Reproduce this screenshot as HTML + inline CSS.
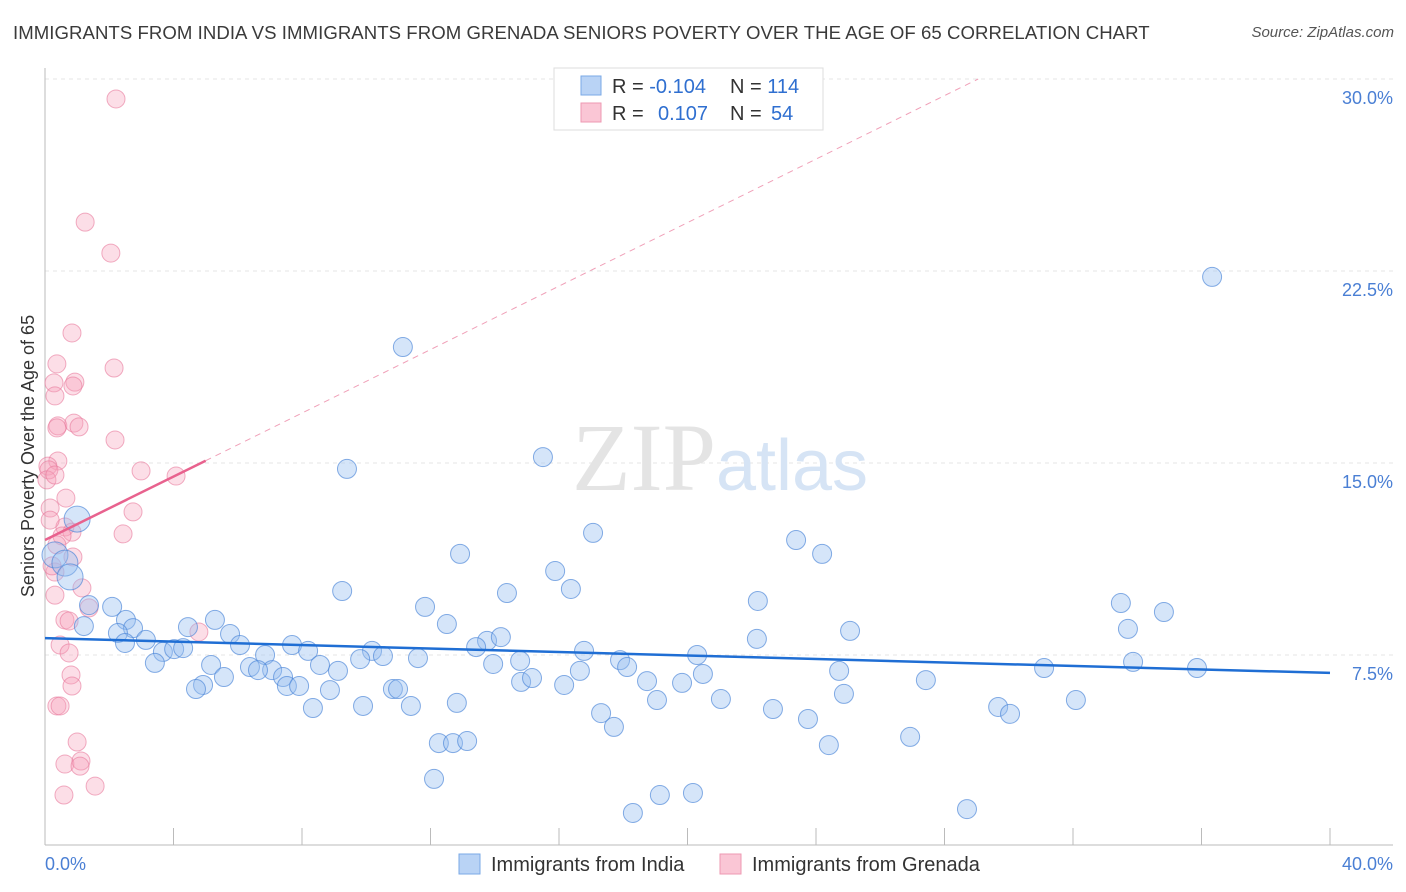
<!DOCTYPE html>
<html><head><meta charset="utf-8"><style>
body{margin:0;background:#fff;font-family:"Liberation Sans",sans-serif;}
#wrap{position:relative;width:1406px;height:892px;overflow:hidden;}
.title{position:absolute;left:13px;top:22px;font-size:18.6px;color:#3a3a3a;letter-spacing:0.05px;white-space:nowrap;}
.src{position:absolute;right:12px;top:24px;font-size:15px;color:#555;font-style:italic;}
</style></head><body>
<div id="wrap">
<div class="title">IMMIGRANTS FROM INDIA VS IMMIGRANTS FROM GRENADA SENIORS POVERTY OVER THE AGE OF 65 CORRELATION CHART</div>
<div class="src">Source: ZipAtlas.com</div>
<svg id="svg" width="1406" height="892" style="position:absolute;left:0;top:0"></svg>
</div>
<script>
const yTicks=[7.5,15,22.5,30];
const yTickLabels=["7.5%","15.0%","22.5%","30.0%"];
const xTickLabels=["0.0%","40.0%"];
const indiaX=[11.14,36.33,9.40,15.50,1.00,17.06,23.38,24.19,12.92,15.88,16.37,0.31,0.62,0.78,9.25,14.38,33.49,34.83,22.19,2.09,1.37,5.29,2.52,11.83,12.51,1.21,4.45,2.74,25.06,33.71,5.76,2.27,3.14,13.76,14.19,22.16,6.07,2.49,7.69,8.19,3.67,4.02,4.30,10.18,10.52,13.42,16.78,20.30,17.90,3.42,5.17,6.38,6.85,9.81,11.61,14.79,13.95,18.12,16.65,24.72,31.10,33.87,35.86,7.07,6.63,8.56,9.12,5.57,7.41,20.48,18.74,19.83,27.42,14.82,15.16,4.92,4.70,7.53,7.91,8.87,10.83,10.99,16.16,12.82,19.05,21.04,24.87,32.09,8.34,9.90,11.39,17.31,22.66,29.67,30.04,17.71,23.75,26.93,24.40,12.26,12.70,13.14,12.11,19.14,20.17,18.30,28.70];
const indiaY=[19.53,22.27,14.77,15.23,12.81,12.27,11.99,11.45,11.45,10.78,10.08,11.41,11.09,10.55,10.0,9.92,9.53,9.18,9.61,9.38,9.45,8.87,8.87,9.38,8.71,8.63,8.59,8.55,8.44,8.52,8.32,8.36,8.09,8.05,8.20,8.13,7.89,7.97,7.89,7.66,7.62,7.73,7.77,7.66,7.46,7.81,7.66,7.5,7.30,7.19,7.11,7.03,7.5,7.34,7.38,7.27,7.15,7.03,6.88,6.88,6.99,7.23,6.99,6.91,6.91,7.11,6.88,6.64,6.64,6.76,6.48,6.41,6.52,6.45,6.60,6.33,6.17,6.29,6.29,6.13,6.17,6.17,6.33,5.63,5.74,5.78,5.98,5.74,5.43,5.51,5.51,5.23,5.39,5.47,5.20,4.69,5.0,4.30,3.98,4.06,4.06,4.14,2.66,2.03,2.11,1.33,1.48];
const grenX=[2.21,1.25,2.05,0.84,0.37,2.15,0.28,0.93,0.87,0.31,0.40,0.90,1.06,0.37,2.18,0.40,0.09,0.12,0.06,0.31,2.99,4.08,0.65,0.16,2.74,0.62,0.84,2.43,0.53,0.37,0.87,0.31,1.15,0.31,1.37,0.62,0.75,4.79,0.47,0.75,0.81,0.84,0.37,0.47,1.00,0.62,1.12,1.09,0.59,1.56,0.22,0.16];
const grenY=[29.22,24.41,23.20,20.08,18.87,18.71,18.13,18.16,18.01,17.62,16.45,16.56,16.41,16.37,15.90,15.08,14.88,14.73,14.34,14.53,14.69,14.49,13.63,13.24,13.09,12.5,12.30,12.23,12.15,11.80,11.33,10.74,10.12,9.84,9.34,8.87,8.83,8.40,7.89,7.58,6.72,6.29,5.51,5.51,4.10,3.24,3.36,3.16,2.03,2.38,10.98,12.77];
const indiaTrend=[8.16,6.80];
const grenTrend=[11.99,0.62];
const xs=v=>45+v*32.125, ys=v=>847-v*25.6;
const svg=document.getElementById('svg');const NS='http://www.w3.org/2000/svg';
function mk(t,a,p){const e=document.createElementNS(NS,t);for(const k in a)e.setAttribute(k,a[k]);(p||svg).appendChild(e);return e;}
yTicks.forEach((t,i)=>{
 const g=mk('line',{x1:45,x2:1393,y1:ys(t),y2:ys(t),stroke:'#e6e6e6','stroke-dasharray':'4,4'});
 
 
 const l=mk('text',{x:1393,y:ys(t)+25,'text-anchor':'end','font-size':18,fill:'#4a7fd4','font-family':'Liberation Sans'});
 l.textContent=yTickLabels[i];
 
 
});
const w=mk('text',{x:720,y:490,'text-anchor':'middle','font-size':96,fill:'#e4e4e4','font-family':'Liberation Serif'});
w.innerHTML='ZIP<tspan fill="#d6e4f5" font-family="Liberation Sans" font-size="72">atlas</tspan>';


mk('line',{x1:45,x2:45,y1:68,y2:845,stroke:'#bbb'});
mk('line',{x1:45,x2:1393,y1:845,y2:845,stroke:'#bbb'});
for(let i=0;i<=10;i++){const t=mk('line',{x1:xs(i*4),x2:xs(i*4),y1:828,y2:845,stroke:'#bbb'});
 
 }
[[0,'start',45],[40,'end',1393]].forEach((d,i)=>{const l=mk('text',{x:d[2],y:870,'text-anchor':d[1],'font-size':18,fill:'#4a7fd4','font-family':'Liberation Sans'});l.textContent=xTickLabels[i];
 
 });
const yt=mk('text',{x:34,y:456,'text-anchor':'middle','font-size':18,fill:'#333','font-family':'Liberation Sans',transform:'rotate(-90 34 456)'});
yt.textContent='Seniors Poverty Over the Age of 65';


grenX.forEach((x,i)=>{const c=mk('circle',{cx:xs(x),cy:ys(grenY[i]),r:9,fill:'rgba(247,160,185,0.35)',stroke:'rgba(232,120,155,0.6)','stroke-width':1});
 
 });
indiaX.forEach((x,i)=>{const c=mk('circle',{cx:xs(x),cy:ys(indiaY[i]),r:(x<1.2&&indiaY[i]>10)?13:9.5,fill:'rgba(150,190,240,0.4)',stroke:'rgba(70,130,215,0.65)','stroke-width':1});
 
 });
const bt=mk('line',{x1:xs(0),y1:ys(indiaTrend[0]),x2:xs(40),y2:ys(indiaTrend[1]),stroke:'#1f6ed4','stroke-width':2.5});


const xEnd=(30-grenTrend[0])/grenTrend[1];
const pd=mk('line',{x1:xs(5),y1:ys(grenTrend[0]+5*grenTrend[1]),x2:xs(xEnd),y2:ys(30),stroke:'#f0a0b8','stroke-width':1,'stroke-dasharray':'6,5'});


const pt=mk('line',{x1:xs(0),y1:ys(grenTrend[0]),x2:xs(5),y2:ys(grenTrend[0]+5*grenTrend[1]),stroke:'#e8628e','stroke-width':2.5});


const lg=mk('g',{});


mk('rect',{x:554,y:68,width:269,height:62,fill:'#fff',stroke:'#ddd'},lg);
mk('rect',{x:581,y:76,width:20,height:19,fill:'#b9d3f5',stroke:'#7aa8e6'},lg);
mk('rect',{x:581,y:103,width:20,height:19,fill:'#fac6d5',stroke:'#ee98b2'},lg);
const r1=mk('text',{x:612,y:93,'font-size':20,fill:'#333','font-family':'Liberation Sans'},lg);
r1.innerHTML='R = <tspan fill="#2f6fd0">-0.104</tspan><tspan x="730">N = </tspan><tspan fill="#2f6fd0">114</tspan>';
const r2=mk('text',{x:612,y:120,'font-size':20,fill:'#333','font-family':'Liberation Sans'},lg);
r2.innerHTML='R = <tspan x="658" fill="#2f6fd0">0.107</tspan><tspan x="730">N = </tspan><tspan x="771" fill="#2f6fd0">54</tspan>';
const bl=mk('g',{});


mk('rect',{x:459,y:854,width:21,height:20,fill:'#b9d3f5',stroke:'#7aa8e6'},bl);
const t1=mk('text',{x:491,y:871,'font-size':20,fill:'#333','font-family':'Liberation Sans'},bl);t1.textContent='Immigrants from India';
mk('rect',{x:720,y:854,width:21,height:20,fill:'#fac6d5',stroke:'#ee98b2'},bl);
const t2=mk('text',{x:752,y:871,'font-size':20,fill:'#333','font-family':'Liberation Sans'},bl);t2.textContent='Immigrants from Grenada';
</script>
</body></html>
